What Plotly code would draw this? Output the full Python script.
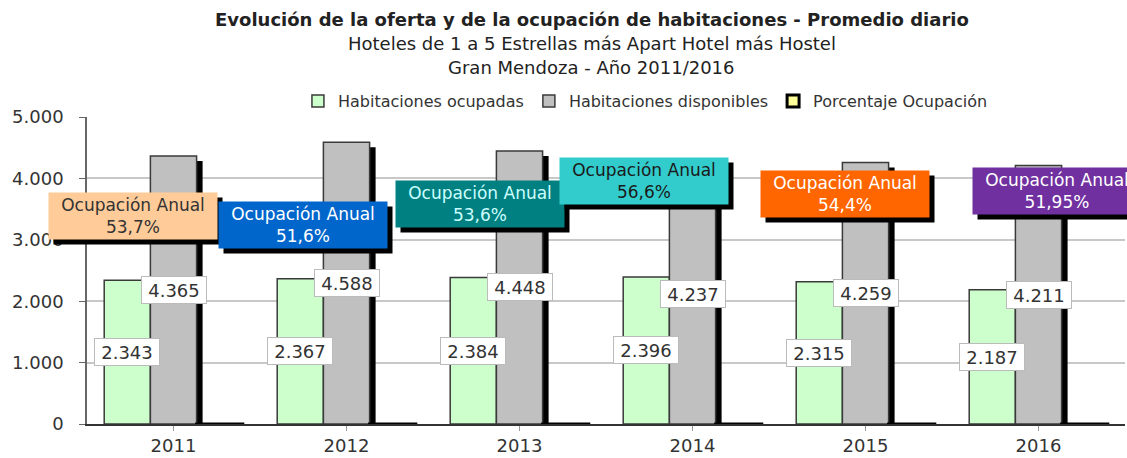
import plotly.graph_objects as go

# ---- data ----
years = ["2011", "2012", "2013", "2014", "2015", "2016"]
ocupadas = [2343, 2367, 2384, 2396, 2315, 2187]
disponibles = [4365, 4588, 4448, 4237, 4259, 4211]
porcentaje = [53.7, 51.6, 53.6, 56.6, 54.4, 51.95]
porcentaje_txt = ["53,7%", "51,6%", "53,6%", "56,6%", "54,4%", "51,95%"]

# ---- callout styling / placement (layout, not data) ----
call_bg = ["#FFCC99", "#0066CC", "#008080", "#33CCCC", "#FF6600", "#7030A0"]
call_fg = ["#333333", "#FFFFFF", "#CCFFFF", "#1A1A1A", "#FFFFFF", "#FFFFFF"]
call_dx = [-0.234, -0.251, -0.23, -0.28, -0.12, 0.107]
call_y = [3388, 3241, 3583, 3958, 3746, 3795]

FONT = "DejaVu Sans"
x = list(range(len(years)))
w = 0.267
off_g, off_d, off_p = -1.5 * w, -0.5 * w, 0.5 * w
px_per_unit = 173.0
px_per_val = 61.4 / 1000.0
sdx = 6 / px_per_unit
sdy = 5 / px_per_val

fig = go.Figure()
# shadow of gray bars
fig.add_trace(go.Bar(x=x, y=[v - sdy for v in disponibles], width=w, offset=off_d + sdx,
                     marker=dict(color="#000000", line=dict(width=0)),
                     showlegend=False, hoverinfo="skip"))
fig.add_trace(go.Bar(x=x, y=ocupadas, width=w, offset=off_g, name="Habitaciones ocupadas",
                     marker=dict(color="#CCFFCC", line=dict(color="#3a3a3a", width=1.5))))
fig.add_trace(go.Bar(x=x, y=disponibles, width=w, offset=off_d, name="Habitaciones disponibles",
                     marker=dict(color="#C0C0C0", line=dict(color="#3a3a3a", width=1.5))))
fig.add_trace(go.Bar(x=x, y=[p / 100 for p in porcentaje], width=w, offset=off_p,
                     name="Porcentaje Ocupación",
                     marker=dict(color="#FFFF99", line=dict(color="#000000", width=3))))

ann = []
# value labels
for i in x:
    for vals, off in ((ocupadas, off_g), (disponibles, off_d)):
        ann.append(dict(x=i + off + w / 2, y=vals[i] / 2, xref="x", yref="y",
                        text=f"{vals[i]:,}".replace(",", "."), showarrow=False,
                        width=60, height=22,
                        bgcolor="#FFFFFF", bordercolor="#BBBBBB", borderwidth=1, borderpad=2,
                        font=dict(family=FONT, size=18, color="#333333")))
# callouts with shadows
for i in x:
    txt = "Ocupación Anual<br>" + porcentaje_txt[i]
    base = dict(x=i + call_dx[i], y=call_y[i], xref="x", yref="y", text=txt, showarrow=False,
                width=166, height=44, borderpad=1, align="center")
    ann.append(dict(base, bgcolor="#000000", font=dict(family=FONT, size=17, color="#000000"),
                    xshift=5, yshift=-5))
    ann.append(dict(base, bgcolor=call_bg[i], font=dict(family=FONT, size=17, color=call_fg[i])))

# titles
for txt, yy in (("<b>Evolución de la oferta y de la ocupación de habitaciones - Promedio diario</b>", 1.316),
                ("Hoteles de 1 a 5 Estrellas más Apart Hotel más Hostel", 1.238),
                ("Gran Mendoza - Año 2011/2016", 1.160)):
    ann.append(dict(x=0.4865, y=yy, xref="paper", yref="paper", showarrow=False,
                    xanchor="center", yanchor="middle", text=txt,
                    font=dict(family=FONT, size=18, color="#222222")))

fig.update_layout(
    width=1127, height=458,
    margin=dict(l=87, r=2, t=117, b=34, autoexpand=False),
    paper_bgcolor="#FFFFFF", plot_bgcolor="#FFFFFF",
    barmode="overlay",
    separators=",.",
    showlegend=True,
    legend=dict(orientation="h", x=0.538, xanchor="center", y=1.052, yanchor="middle",
                font=dict(family=FONT, size=16, color="#333333"),
                itemwidth=30, traceorder="normal", tracegroupgap=0),
    annotations=ann,
    font=dict(family=FONT, size=16, color="#333333"),
)
fig.update_xaxes(range=[-0.5, 5.5], tickmode="array", tickvals=x, ticktext=years,
                 showgrid=False, showline=True, linecolor="#333333", linewidth=1.5,
                 ticks="outside", tickson="boundaries", ticklen=5, tickcolor="#999999",
                 tickfont=dict(family=FONT, size=18, color="#333333"), zeroline=False)
fig.update_yaxes(range=[0, 5000], tickvals=[0, 1000, 2000, 3000, 4000, 5000], tickformat=",d",
                 showgrid=True, gridcolor="#C8C8C8", gridwidth=1.5,
                 showline=True, linecolor="#666666", linewidth=1.5,
                 ticks="outside", ticklen=6, tickcolor="#666666", ticklabelstandoff=12,
                 tickfont=dict(family=FONT, size=18, color="#333333"), zeroline=False)

fig.write_html("out.html", config={"displayModeBar": False},
               post_script="document.body.style.margin='0';")
